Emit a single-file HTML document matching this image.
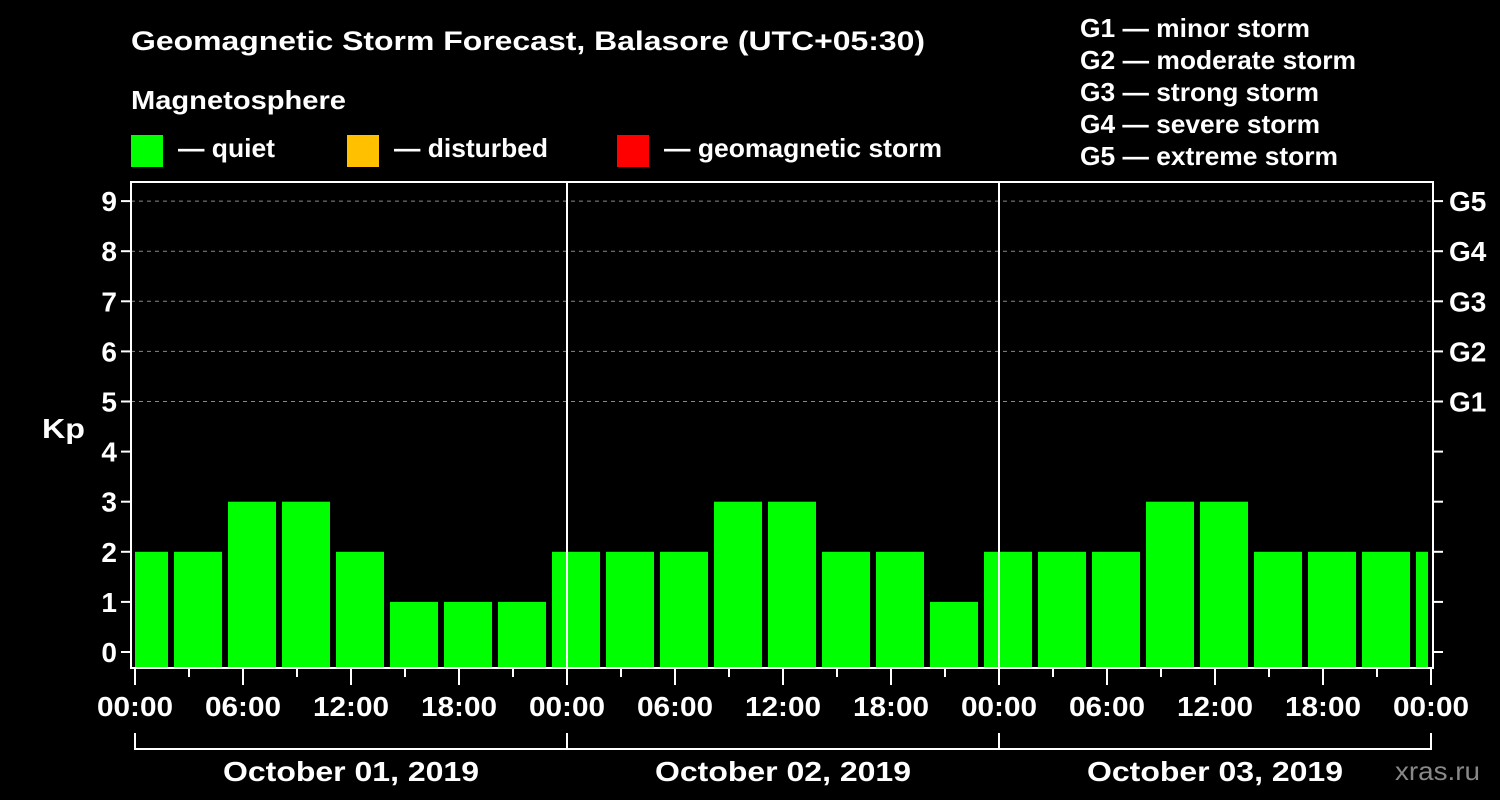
<!DOCTYPE html>
<html><head><meta charset="utf-8"><style>
body{margin:0;background:#000;}
svg{display:block;font-family:"Liberation Sans",Arial,sans-serif;font-weight:bold;}
</style></head><body>
<svg id="chart" width="1500" height="800" xmlns="http://www.w3.org/2000/svg">
<rect width="1500" height="800" fill="#000"/>
<text x="131" y="50" fill="#fff" font-size="27" textLength="794" lengthAdjust="spacingAndGlyphs">Geomagnetic Storm Forecast, Balasore (UTC+05:30)</text>
<text x="131" y="109" fill="#fff" font-size="26" textLength="215" lengthAdjust="spacingAndGlyphs">Magnetosphere</text>
<g><rect x="131" y="135" width="32" height="32" fill="#00ff00"/><text x="178" y="157" fill="#fff" font-size="26" textLength="97" lengthAdjust="spacingAndGlyphs">— quiet</text></g>
<g><rect x="347" y="135" width="32" height="32" fill="#ffc000"/><text x="394" y="157" fill="#fff" font-size="26" textLength="154" lengthAdjust="spacingAndGlyphs">— disturbed</text></g>
<g><rect x="617" y="135" width="32" height="32" fill="#ff0000"/><text x="664" y="157" fill="#fff" font-size="26" textLength="278" lengthAdjust="spacingAndGlyphs">— geomagnetic storm</text></g>
<g fill="#fff" font-size="26" lengthAdjust="spacingAndGlyphs">
<text x="1080" y="37" textLength="230" lengthAdjust="spacingAndGlyphs">G1 — minor storm</text>
<text x="1080" y="69" textLength="276" lengthAdjust="spacingAndGlyphs">G2 — moderate storm</text>
<text x="1080" y="101" textLength="239" lengthAdjust="spacingAndGlyphs">G3 — strong storm</text>
<text x="1080" y="133" textLength="240" lengthAdjust="spacingAndGlyphs">G4 — severe storm</text>
<text x="1080" y="165" textLength="258" lengthAdjust="spacingAndGlyphs">G5 — extreme storm</text>
</g>
<text x="42" y="438" fill="#fff" font-size="28" textLength="43" lengthAdjust="spacingAndGlyphs">Kp</text>
<g id="grid"></g><g id="bars"></g><g id="axes"></g>
<text x="1395" y="780" fill="#888" font-size="26" font-weight="normal" textLength="85" lengthAdjust="spacingAndGlyphs">xras.ru</text>
</svg>
<script>
const kpValues=[2,2,3,3,2,1,1,1,2,2,2,3,3,2,2,1,2,2,2,3,3,2,2,2,2];
const yTicks=[0,1,2,3,4,5,6,7,8,9];
const gLabels=["G1","G2","G3","G4","G5"];
const dayLabels=["October 01, 2019","October 02, 2019","October 03, 2019"];
const hourLabels=["00:00","06:00","12:00","18:00"];
const firstSlotHour=-0.5;
const NS="http://www.w3.org/2000/svg";
const X0=135,PXH=18,Y0=652,PXU=50.1,L=131,R=1433,T=182,B=668;
const xs=h=>X0+h*PXH, ys=v=>Y0-v*PXU;
function mk(tag,attrs,parent){const e=document.createElementNS(NS,tag);for(const k in attrs)e.setAttribute(k,attrs[k]);parent.appendChild(e);return e;}
const grid=document.getElementById('grid'),bars=document.getElementById('bars'),axes=document.getElementById('axes');
yTicks.forEach(v=>{
 if(v>=5){const ln=mk('line',{x1:L,x2:R,y1:ys(v),y2:ys(v),stroke:'#888','stroke-dasharray':'4,4','stroke-width':1},grid);
 
 }
 const t=mk('line',{x1:L-10,x2:L,y1:ys(v),y2:ys(v),stroke:'#fff','stroke-width':2},axes);
 
 
 mk('line',{x1:R,x2:R+10,y1:ys(v),y2:ys(v),stroke:'#fff','stroke-width':2},axes);
 const tx=mk('text',{x:L-14,y:ys(v)+10,fill:'#fff','font-size':28,'text-anchor':'end'},axes);tx.textContent=v;
 
 
 if(v>=5){const g=mk('text',{x:R+16,y:ys(v)+10,fill:'#fff','font-size':28},axes);g.textContent=gLabels[v-5];
 
 }
});
kpValues.forEach((v,i)=>{
 const h=firstSlotHour+i*3;
 let x1=xs(h)-6,x2=x1+48;
 x1=Math.max(x1,X0);x2=Math.min(x2,R-5);
 const c=v>=5?'#ff0000':(v>=4?'#ffc000':'#00ff00');
 const r=mk('rect',{x:x1,y:ys(v),width:x2-x1,height:B-ys(v),fill:c},bars);
 
 
});
const fr=mk('rect',{x:L,y:T,width:R-L,height:B-T,fill:'none',stroke:'#fff','stroke-width':2},axes);


for(let d=1;d<dayLabels.length;d++){
 const ln=mk('line',{x1:xs(d*24),x2:xs(d*24),y1:T,y2:B,stroke:'#fff','stroke-width':2},axes);
 
 
}
for(let h=0;h<=72;h+=3){
 const major=h%6===0;
 mk('line',{x1:xs(h),x2:xs(h),y1:B,y2:major?B+17:B+9,stroke:'#fff','stroke-width':2},axes);
 if(major){const t=mk('text',{x:xs(h)-38,y:716,fill:'#fff','font-size':28,textLength:76,lengthAdjust:'spacingAndGlyphs'},axes);
 t.textContent=hourLabels[(h/6)%4];
 
 }
}
mk('line',{x1:xs(0),x2:xs(72),y1:749,y2:749,stroke:'#fff','stroke-width':2},axes);
for(let d=0;d<=dayLabels.length;d++)mk('line',{x1:xs(d*24),x2:xs(d*24),y1:733,y2:750,stroke:'#fff','stroke-width':2},axes);
dayLabels.forEach((s,d)=>{
 const t=mk('text',{x:xs(d*24+12)-128,y:781,fill:'#fff','font-size':28,textLength:256,lengthAdjust:'spacingAndGlyphs'},axes);t.textContent=s;
 
 
});
</script>
</body></html>
